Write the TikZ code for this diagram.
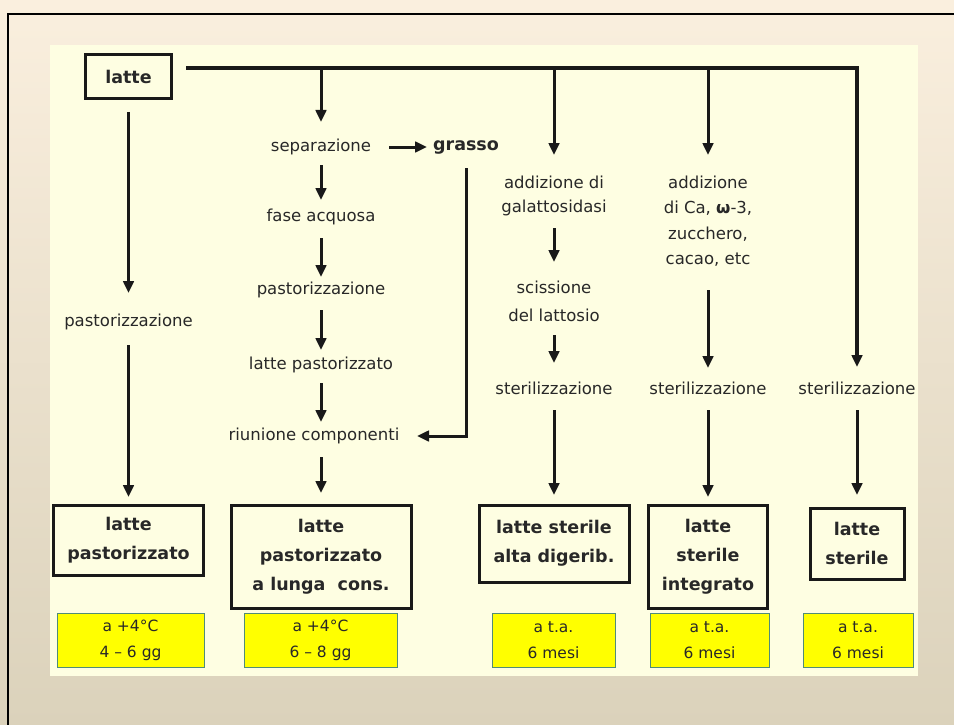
\documentclass[tikz,border=0pt]{standalone}
\usepackage{fontspec}
\setmainfont{DejaVu Sans}
\usetikzlibrary{arrows.meta}
\definecolor{panel}{RGB}{254,254,226}
\definecolor{bgtop}{RGB}{250,239,222}
\definecolor{bgbot}{RGB}{219,210,187}
\definecolor{ink}{RGB}{40,40,40}
\definecolor{ybox}{RGB}{255,255,0}
\definecolor{yedge}{RGB}{80,140,120}
\begin{document}
\begin{tikzpicture}[x=1pt,y=-1pt,
  txt/.style={inner sep=0pt, text=ink, font=\fontsize{16.5}{24}\selectfont, align=center},
  txtb/.style={inner sep=0pt, text=ink, font=\fontsize{17.5}{24}\selectfont\bfseries, align=center},
  outbox/.style={draw=black!90, line width=3pt, inner sep=0pt, text=ink,
    font=\fontsize{17.5}{29}\selectfont\bfseries, align=center},
  ybx/.style={draw=yedge, line width=1pt, fill=ybox, inner sep=0pt, text=ink,
    font=\fontsize{15.5}{26}\selectfont, align=center, minimum height=54},
  arr/.style={line width=3pt, draw=black!90, -{Triangle[length=12pt,width=10.5pt]}}
]
\useasboundingbox (0,0) rectangle (954,725);
% background
\fill[top color=bgtop, middle color=bgtop!75!bgbot, bottom color=bgbot] (0,0) rectangle (954,725);
\fill[panel] (50,45) rectangle (918,676);
\draw[black, line width=2.2pt] (8,725) -- (8,14) -- (954,14);

% nodes
\node[outbox, minimum width=86, minimum height=44] (latte) at (128.5,77) {latte};
\coordinate (tl) at (185,68);

% column 1
\node[txt] (p1) at (128.5,322) {pastorizzazione};
\node[outbox, minimum width=150, minimum height=70] (b1) at (128.5,540) {latte\\pastorizzato};
\node[ybx, minimum width=147] (y1) at (130.5,640) {a +4°C\\4 – 6 gg};

% column 2
\node[txt] (sep) at (321,147) {separazione};
\node[txtb] (grasso) at (466,147) {grasso};
\node[txt] (fa) at (321,217) {fase acquosa};
\node[txt] (p2) at (321,290) {pastorizzazione};
\node[txt] (lp) at (321,365) {latte pastorizzato};
\node[txt] (rc) at (314,436) {riunione componenti};
\node[outbox, minimum width=180, minimum height=103] (b2) at (321,556.5) {latte\\pastorizzato\\a lunga\ \ cons.};
\node[ybx, minimum width=153] (y2) at (320.5,640) {a +4°C\\6 – 8 gg};

% column 3
\node[txt] (ad3) at (554,196) {addizione di\\galattosidasi};
\node[txt, font=\fontsize{16.5}{28}\selectfont] (sc) at (554,301) {scissione\\del lattosio};
\node[txt] (st3) at (554,388) {sterilizzazione};
\node[outbox, minimum width=150, minimum height=77] (b3) at (554,543.5) {latte sterile\\alta digerib.};
\node[ybx, minimum width=123] (y3) at (553.5,640) {a t.a.\\6 mesi};

% column 4
\node[txt, font=\fontsize{16.5}{25.5}\selectfont] (ad4) at (708,221) {addizione\\di Ca, {\bfseries ω}-3,\\zucchero,\\cacao, etc};
\node[txt] (st4) at (708,388) {sterilizzazione};
\node[outbox, minimum width=119, minimum height=103] (b4) at (708,556.5) {latte\\sterile\\integrato};
\node[ybx, minimum width=119] (y4) at (709.5,640) {a t.a.\\6 mesi};

% column 5
\node[txt] (st5) at (857,388) {sterilizzazione};
\node[outbox, minimum width=94, minimum height=71] (b5) at (857,543.5) {latte\\sterile};
\node[ybx, minimum width=110] (y5) at (858,640) {a t.a.\\6 mesi};

% connectors
\draw[arr, line width=3.2pt, shorten <=13, shorten >=21] (latte.east |- tl) -- (st5.center |- tl) -- (st5.center);
\draw[arr, shorten <=35, shorten >=29] (latte.center) -- (p1.center);
\draw[arr, shorten <=23, shorten >=43] (p1.center) -- (b1.center);

\draw[arr, shorten >=25] (tl -| sep.center) -- (sep.center);
\draw[arr, shorten <=68, shorten >=39] (sep.center) -- (grasso.center);
\draw[arr, shorten <=18, shorten >=17] (sep.center) -- (fa.center);
\draw[arr, shorten <=21, shorten >=13] (fa.center) -- (p2.center);
\draw[arr, shorten <=20, shorten >=15] (p2.center) -- (lp.center);
\draw[arr, shorten <=18, shorten >=14] (lp.center) -- (lp.center |- rc.center);
\draw[arr, shorten <=21, shorten >=63.5] (b2.center |- rc.center) -- (b2.center);
\draw[arr, shorten <=21, shorten >=103] (grasso.center) -- (grasso.center |- rc.center) -- (rc.center);

\draw[arr, shorten >=41] (tl -| ad3.center) -- (ad3.center);
\draw[arr, shorten <=32, shorten >=39] (ad3.center) -- (sc.center);
\draw[arr, shorten <=34, shorten >=25] (sc.center) -- (st3.center);
\draw[arr, shorten <=22, shorten >=48.5] (st3.center) -- (b3.center);

\draw[arr, shorten >=66] (tl -| ad4.center) -- (ad4.center);
\draw[arr, shorten <=69, shorten >=20] (ad4.center) -- (st4.center);
\draw[arr, shorten <=22, shorten >=59.5] (st4.center) -- (b4.center);

\draw[arr, shorten <=22, shorten >=48.5] (st5.center) -- (b5.center);
\end{tikzpicture}
\end{document}
